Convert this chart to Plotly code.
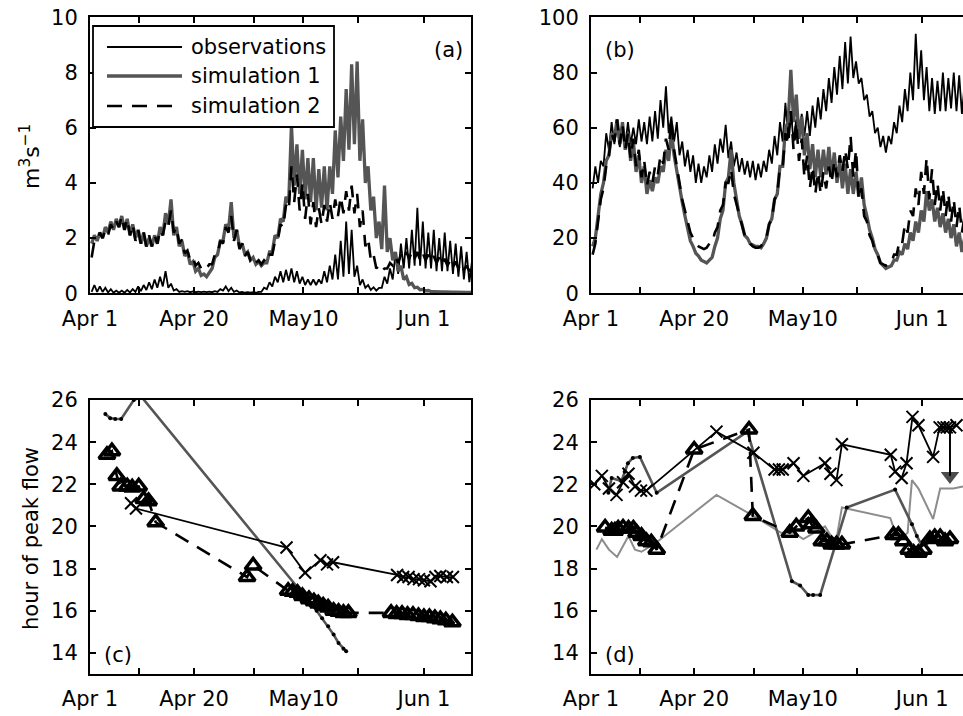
import plotly.graph_objects as go

# ---------------- data ----------------
# Panels (a),(b): daily minimum / maximum of hourly discharge (m3 s-1), day index = days since Apr 1
a_obs_lo = [0.05,0.05,0.05,0.03,0.02, 0.02,0.02,0.03,0.05,0.08, 0.12,0.15,0.2,0.25,0.2, 0.1,0.05,0.05,0.04,0.04,
            0.04,0.04,0.04,0.05,0.1, 0.08,0.05,0.03,0.02,0.02, 0.02,0.05,0.15,0.25,0.4, 0.4,0.45,0.4,0.35,0.3,
            0.3,0.3,0.35,0.4,0.5, 0.5,0.6,0.7,0.6,0.3, 0.2,0.12,0.1,0.2,0.35, 0.5,0.7,0.9,0.9,1.0,
            1.0,0.9,0.9,0.8,0.8, 0.8,0.7,0.6,0.5,0.4]
a_obs_hi = [0.3,0.25,0.2,0.15,0.1, 0.1,0.12,0.15,0.25,0.3, 0.4,0.5,0.6,0.8,0.35, 0.15,0.08,0.08,0.07,0.06,
            0.06,0.06,0.08,0.15,0.25, 0.2,0.1,0.05,0.04,0.04, 0.05,0.2,0.4,0.6,0.8, 0.85,0.9,0.8,0.6,0.5,
            0.5,0.5,0.8,1.0,1.4, 1.9,2.6,2.3,1.0,0.5, 0.3,0.22,0.2,0.6,0.9, 1.4,1.8,2.0,2.3,3.1,
            2.6,2.2,2.3,2.0,2.2, 1.9,1.8,1.7,1.5,1.2]
a_sim1_lo = [1.8,1.9,2.0,2.2,2.3, 2.4,2.3,2.1,2.0,1.8, 1.7,1.7,1.8,2.1,2.5, 2.1,1.7,1.35,1.05,0.8,
             0.65,0.6,0.9,1.4,1.9, 2.3,2.0,1.7,1.4,1.2, 1.05,1.0,1.1,1.5,2.0, 2.6,3.3,3.9,3.6,3.4,
             3.3,3.0,3.1,3.0,3.6, 4.2,4.8,5.2,5.4,4.8, 4.0,3.0,2.0,1.6,1.5, 1.2,0.8,0.5,0.32,0.2,
             0.13,0.09,0.06,0.05,0.05, 0.04,0.04,0.03,0.03,0.03]
a_sim1_hi = [2.1,2.2,2.4,2.6,2.7, 2.8,2.7,2.5,2.3,2.2, 2.0,2.1,2.4,2.9,3.4, 2.4,1.9,1.5,1.15,0.9,
             0.7,0.75,1.3,1.9,2.5, 3.3,2.3,1.8,1.5,1.3, 1.15,1.1,1.5,2.1,2.7, 3.5,6.1,5.4,5.2,4.9,
             4.9,4.5,4.6,4.6,5.9, 6.4,7.4,8.3,8.4,6.3, 4.6,3.5,2.6,3.9,2.0, 1.5,1.0,0.6,0.36,0.22,
             0.14,0.1,0.06,0.05,0.05, 0.04,0.04,0.03,0.03,0.03]
a_sim2_lo = [1.3,1.9,2.0,2.1,2.3, 2.4,2.3,2.1,1.9,1.8, 1.7,1.7,1.8,2.1,2.4, 2.2,1.8,1.45,1.2,1.0,
             0.9,0.9,1.05,1.4,1.8, 2.2,1.9,1.6,1.35,1.2, 1.1,1.05,1.1,1.4,1.9, 2.4,3.0,3.3,3.0,2.7,
             2.5,2.4,2.5,2.6,2.7, 2.8,2.9,3.0,2.9,2.4, 1.7,1.2,0.9,0.8,0.9, 1.0,1.1,1.2,1.25,1.25,
             1.2,1.2,1.15,1.1,1.05, 1.0,0.95,0.9,0.85,0.8]
a_sim2_hi = [1.9,2.2,2.3,2.5,2.6, 2.8,2.7,2.5,2.3,2.2, 2.1,2.1,2.3,2.6,3.0, 2.4,1.95,1.55,1.3,1.1,
             1.0,1.05,1.4,1.9,2.4, 2.8,2.3,1.8,1.5,1.3, 1.2,1.2,1.4,1.9,2.5, 3.2,4.6,4.3,4.0,3.6,
             3.3,3.1,3.2,3.3,3.4, 3.5,3.7,3.9,3.6,3.0, 2.0,1.4,1.0,0.9,1.1, 1.3,1.4,1.5,1.5,1.5,
             1.45,1.4,1.35,1.3,1.25, 1.2,1.15,1.1,1.0,0.95]

b_obs_lo = [38,40,46,52,54, 53,53,54,54,55, 54,55,56,60,58, 55,50,46,44,40, 40,42,44,47,51,
            49,46,44,43,42, 41,42,44,47,50, 55,56,55,56,57, 57,60,63,66,69, 72,74,76,78,76,
            70,64,58,53,51, 54,58,62,66,70, 74,70,66,65,66, 66,67,66,65]
b_obs_hi = [46,48,58,62,62, 60,62,60,63,62, 64,66,70,75,64, 62,55,52,50,47, 46,50,54,56,61,
            55,51,49,48,48, 47,48,52,57,62, 69,66,63,65,66, 68,71,74,78,82, 86,91,93,84,78,
            72,66,60,57,57, 62,68,74,80,94, 88,82,78,77,80, 78,80,79,76]
b_sim1_lo = [17,28,40,50,56, 54,52,48,44,40, 36,37,40,44,48, 50,38,28,19,14.5, 12,11,13,20,30,
             42,40,28,21,18, 17,16.5,20,27,36, 46,62,62,56,50, 45,42,42,43,42, 40,38,36,36,35,
             32,23,16,11,9, 10,12,14,16,19, 22,26,30,26,24, 22,20,17,15]
b_sim1_hi = [20,36,48,58,63, 62,58,55,50,46, 41,42,46,52,59, 44,33,24,17,13.5, 11.5,12,17,27,40,
             52,34,25,20,17.5, 17,18,25,34,46, 60,81,72,64,58, 54,52,52,53,51, 48,47,45,44,42,
             28,20,14,10,9.5, 12,15,18,22,26, 30,37,34,31,29, 27,25,22,20]
b_sim2_lo = [14,26,38,50,55, 54,52,49,46,42, 39,40,43,47,52, 52,40,30,22,18, 16.5,16.5,18,24,32,
             40,36,28,21,18, 16.5,17,20,27,36, 46,54,52,48,42, 38,36,36,38,40, 42,44,45,42,34,
             28,21,15,11,10, 11,14,18,22,28, 32,36,34,32,30, 28,26,24,22]
b_sim2_hi = [18,34,46,58,63, 61,58,56,52,48, 44,46,50,56,63, 46,34,26,20,17, 16,18,22,30,40,
             45,32,25,20,17, 16.5,19,25,34,46, 58,66,62,56,50, 46,44,44,46,48, 50,52,57,52,38,
             26,19,14,10.5,11, 14,19,25,30,38, 44,49,45,40,38, 36,34,32,28]

# Panels (c),(d): hour of daily peak flow
c_obs_day = [7.5, 8.4, 35.9, 39.3, 42.1, 43.3, 44.4, 56.1, 57.2, 58.2, 59.1, 60.1, 61.0, 62.2, 63.1, 64.0, 65.2, 66.3]
c_obs_hr = [21.1, 20.85, 19.0, 17.8, 18.4, 18.2, 18.3, 17.7, 17.6, 17.6, 17.5, 17.5, 17.45, 17.4, 17.6, 17.65, 17.6, 17.6]
c_sim1_day = [2.8, 3.7, 4.6, 5.7, 8.0, 9.4, 41.4, 42.4, 43.5, 44.5, 45.4, 46.3, 46.8]
c_sim1_hr = [25.33, 25.14, 25.1, 25.1, 26.0, 26.15, 16.0, 15.65, 15.26, 14.87, 14.47, 14.2, 14.08]
c_sim2_day = [3.1, 4.0, 4.9, 5.6, 6.8, 7.7, 8.9, 9.8, 10.7, 12.0, 28.7, 29.8, 36.2, 37.0, 37.9, 38.8, 40.0, 40.9,
              41.7, 42.6, 43.5, 44.5, 45.4, 46.3, 47.2, 55.0, 56.0, 57.0, 58.0, 59.0, 60.0, 61.0, 62.0, 63.0,
              64.0, 65.0, 66.2]
c_sim2_hr = [23.4, 23.57, 22.4, 21.9, 21.9, 21.85, 21.9, 21.3, 21.2, 20.2, 17.6, 18.15, 16.95, 16.9, 16.85, 16.7,
             16.55, 16.45, 16.35, 16.25, 16.15, 16.0, 15.95, 15.9, 15.9, 15.9, 15.85, 15.85, 15.8, 15.8, 15.75,
             15.7, 15.7, 15.65, 15.6, 15.55, 15.45]

d_obs_day = [0.6, 2.0, 3.3, 4.7, 5.9, 6.9, 8.1, 9.2, 10.2, 23.1, 29.9, 33.8, 34.6, 35.3, 37.3, 39.1, 43.1, 44.1,
             45.2, 46.2, 55.2, 56.0, 57.2, 58.1, 59.2, 60.3, 63.0, 64.2, 64.9, 65.5, 66.1, 67.3]
d_obs_hr = [22.0, 22.4, 21.8, 21.5, 22.1, 22.5, 21.9, 21.7, 21.7, 24.5, 23.5, 22.7, 22.7, 22.7, 23.0, 22.4, 23.0,
            22.5, 22.2, 23.9, 23.4, 22.6, 22.3, 23.0, 25.2, 24.8, 23.3, 24.7, 24.7, 24.7, 24.7, 24.8]
d_sim1_day = [3.2, 3.8, 5.6, 6.2, 6.8, 7.7, 9.0, 12.1, 28.8, 37.0, 38.5, 40.0, 40.9, 42.2, 47.1, 56.0, 59.1, 60.0, 60.9]
d_sim1_hr = [21.6, 22.3, 22.15, 22.6, 23.0, 23.25, 23.3, 21.6, 24.5, 17.4, 17.2, 16.75, 16.75, 16.75, 20.9, 21.75,
             20.1, 19.55, 19.1]
d_sim2_day = [2.6, 3.8, 4.4, 5.0, 5.9, 6.9, 7.8, 8.4, 9.3, 10.2, 11.1, 12.1, 19.0, 29.1, 29.8, 36.6, 37.8, 40.0,
              40.6, 41.5, 42.5, 43.4, 44.3, 45.2, 46.2, 55.7, 56.6, 57.5, 58.5, 59.4, 60.3, 61.2, 62.4, 63.3, 64.3,
              65.2, 66.1]
d_sim2_hr = [19.95, 19.8, 19.8, 19.9, 19.95, 19.9, 19.9, 19.7, 19.55, 19.3, 19.25, 18.9, 23.65, 24.6, 20.5, 19.7,
             20.0, 20.4, 20.1, 19.9, 19.3, 19.3, 19.15, 19.15, 19.15, 19.6, 19.6, 19.3, 18.9, 18.75, 18.75, 18.9,
             19.4, 19.5, 19.5, 19.3, 19.4]
d_ref_day = [1.0, 2.0, 3.3, 4.8, 6.9, 8.1, 9.3, 12.1, 23.1, 29.9, 35.0, 37.3, 39.1, 43.1, 44.3, 45.2, 46.2, 55.1,
             56.2, 57.4, 58.3, 59.1, 60.3, 63.0, 64.3, 66.7, 68.5]
d_ref_hr = [18.9, 19.4, 18.9, 18.55, 19.55, 18.9, 18.8, 19.25, 21.5, 20.5, 19.7, 19.7, 19.4, 20.0, 19.5, 19.4,
            20.9, 20.4, 19.6, 19.5, 19.7, 22.2, 21.8, 20.35, 21.8, 21.8, 21.9]
# downward arrow in (d): shaft from 24.7 h to the head at 22.4 h, tip at 21.85 h
d_arrow_day = [66.1, 66.1]
d_arrow_hr = [24.7, 22.4]

label_days = [0, 19, 39, 61]
label_text = ["Apr 1", "Apr 20", "May10", "Jun 1"]
minor_days = [9, 30, 49]
legend_names = ["observations", "simulation 1", "simulation 2"]

# time of day of daily minimum / maximum
T_LO, T_HI = 0.3, 0.8


def diurnal(lo, hi):
    xs, ys = [], []
    for d, (l, h) in enumerate(zip(lo, hi)):
        xs += [d + T_LO, d + T_HI]
        ys += [l, h]
    return xs, ys


BLACK = "black"
GRAY = "#555555"
LGRAY = "#8c8c8c"
FONT = "DejaVu Sans"
FS = 21
DASH = "15px,10px"
TRI = dict(symbol="triangle-up-open", size=14, color=BLACK, line=dict(width=3.5, color=BLACK))
XM = dict(symbol="x-thin", size=12, line=dict(width=2, color=BLACK))

fig = go.Figure()

for ax, (obs, s1, s2) in (("", ((a_obs_lo, a_obs_hi), (a_sim1_lo, a_sim1_hi), (a_sim2_lo, a_sim2_hi))),
                          ("2", ((b_obs_lo, b_obs_hi), (b_sim1_lo, b_sim1_hi), (b_sim2_lo, b_sim2_hi)))):
    xa, ya = "x" + ax, "y" + ax
    x, y = diurnal(*obs)
    fig.add_trace(go.Scatter(x=x, y=y, mode="lines", line=dict(color=BLACK, width=1.8), xaxis=xa, yaxis=ya))
    x, y = diurnal(*s1)
    fig.add_trace(go.Scatter(x=x, y=y, mode="lines", line=dict(color=GRAY, width=3.3), xaxis=xa, yaxis=ya))
    x, y = diurnal(*s2)
    fig.add_trace(go.Scatter(x=x, y=y, mode="lines", line=dict(color=BLACK, width=2.6, dash=DASH),
                             xaxis=xa, yaxis=ya))

# panel (c)
fig.add_trace(go.Scatter(x=c_sim1_day, y=c_sim1_hr, mode="lines+markers", line=dict(color=GRAY, width=2.6),
                         marker=dict(color=BLACK, size=4), xaxis="x3", yaxis="y3"))
fig.add_trace(go.Scatter(x=c_sim2_day, y=c_sim2_hr, mode="lines+markers", line=dict(color=BLACK, width=2.6, dash=DASH),
                         marker=TRI, xaxis="x3", yaxis="y3"))
fig.add_trace(go.Scatter(x=c_obs_day, y=c_obs_hr, mode="lines+markers", line=dict(color=BLACK, width=1.8),
                         marker=XM, xaxis="x3", yaxis="y3"))
# panel (d)
fig.add_trace(go.Scatter(x=d_ref_day, y=d_ref_hr, mode="lines", line=dict(color=LGRAY, width=2),
                         xaxis="x4", yaxis="y4"))
fig.add_trace(go.Scatter(x=d_sim1_day, y=d_sim1_hr, mode="lines+markers", line=dict(color=GRAY, width=2.6),
                         marker=dict(color=BLACK, size=4), xaxis="x4", yaxis="y4"))
fig.add_trace(go.Scatter(x=d_sim2_day, y=d_sim2_hr, mode="lines+markers", line=dict(color=BLACK, width=2.6, dash=DASH),
                         marker=TRI, xaxis="x4", yaxis="y4"))
fig.add_trace(go.Scatter(x=d_obs_day, y=d_obs_hr, mode="lines+markers", line=dict(color=BLACK, width=1.8),
                         marker=XM, xaxis="x4", yaxis="y4"))
fig.add_trace(go.Scatter(x=d_arrow_day, y=d_arrow_hr, mode="lines+markers", line=dict(color=BLACK, width=2),
                         marker=dict(symbol=["circle", "triangle-down"], size=[0, 16], color=BLACK,
                                     line=dict(width=0)),
                         xaxis="x4", yaxis="y4"))

W, H = 963, 716
px = lambda v: v / W
py = lambda v: 1 - v / H


def xaxis(dom, rng, anchor):
    return dict(domain=dom, range=rng, anchor=anchor, tickmode="array", tickvals=label_days, ticktext=label_text,
                ticks="inside", ticklen=6, tickwidth=1.5, tickcolor=BLACK, showline=True, linecolor=BLACK,
                linewidth=2, mirror="ticks", showgrid=False, zeroline=False, ticklabelstandoff=5,
                minor=dict(tickmode="array", tickvals=minor_days, ticks="inside", ticklen=6, tickwidth=1.5,
                           tickcolor=BLACK, showgrid=False),
                automargin=False, tickfont=dict(family=FONT, size=FS, color=BLACK))


def yaxis(dom, rng, dtick, anchor, mirror="ticks"):
    return dict(domain=dom, range=rng, anchor=anchor, dtick=dtick, tick0=0, ticks="inside", ticklen=6,
                tickwidth=1.5, tickcolor=BLACK, showline=True, linecolor=BLACK, linewidth=2, mirror=mirror,
                showgrid=False, zeroline=False, ticklabelstandoff=6, automargin=False,
                tickfont=dict(family=FONT, size=FS, color=BLACK))


xa_dom = [px(90), px(471)]
xb_dom = [px(591), 1.0]
top_dom = [py(293.3), py(17.3)]
bot_dom = [py(674), py(400)]

fig.update_layout(
    template="none",
    width=W, height=H, margin=dict(l=0, r=0, t=0, b=0, pad=0, autoexpand=False),
    paper_bgcolor="white", plot_bgcolor="white",
    showlegend=False,
    xaxis=xaxis(xa_dom, [0, 69.6], "y"),
    yaxis=yaxis(top_dom, [0, 10], 2, "x"),
    xaxis2=xaxis(xb_dom, [0, 68.5], "y2"),
    yaxis2=yaxis(top_dom, [0, 100], 20, "x2", mirror=False),
    xaxis3=xaxis(xa_dom, [0, 69.6], "y3"),
    yaxis3=yaxis(bot_dom, [13, 26], 2, "x3"),
    xaxis4=xaxis(xb_dom, [0, 68.5], "y4"),
    yaxis4=yaxis(bot_dom, [13, 26], 2, "x4", mirror=False),
)

# legend (panel a)
shapes = [dict(type="rect", xref="paper", yref="paper", x0=px(93), x1=px(334), y0=py(127), y1=py(26),
               line=dict(color=BLACK, width=1.8), fillcolor="white", layer="above")]
leg_styles = [dict(color=BLACK, width=1.8), dict(color=GRAY, width=3.5), dict(color=BLACK, width=2.6, dash=DASH)]
annotations = []
for i, (name, st) in enumerate(zip(legend_names, leg_styles)):
    yy = [47, 76, 106][i]
    shapes.append(dict(type="line", xref="paper", yref="paper", x0=px(107), x1=px(182), y0=py(yy), y1=py(yy),
                       line=st, layer="above"))
    annotations.append(dict(xref="paper", yref="paper", x=px(189), y=py(yy), text=name, showarrow=False,
                            xanchor="left", yanchor="middle", font=dict(family=FONT, size=FS, color=BLACK)))

for lab, xx, yy in (("(a)", 448, 50), ("(b)", 620, 50), ("(c)", 118, 655), ("(d)", 620, 655)):
    annotations.append(dict(xref="paper", yref="paper", x=px(xx), y=py(yy), text=lab, showarrow=False,
                            xanchor="center", yanchor="middle", font=dict(family=FONT, size=FS, color=BLACK)))

annotations.append(dict(xref="paper", yref="paper", x=px(30), y=py(157), text="m<sup>3</sup>s<sup>\u22121</sup>",
                        textangle=-90, showarrow=False, xanchor="center", yanchor="middle",
                        font=dict(family=FONT, size=FS + 1, color=BLACK)))
annotations.append(dict(xref="paper", yref="paper", x=px(31), y=py(539), text="hour of peak flow",
                        textangle=-90, showarrow=False, xanchor="center", yanchor="middle",
                        font=dict(family=FONT, size=FS, color=BLACK)))

fig.update_layout(shapes=shapes, annotations=annotations)
fig.write_html("out.html")
